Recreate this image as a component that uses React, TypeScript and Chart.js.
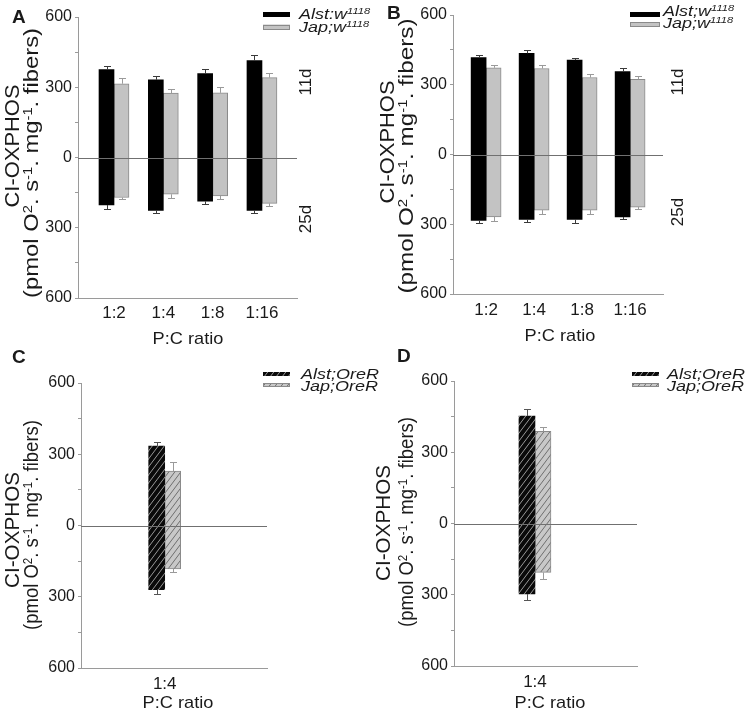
import React, { useEffect, useRef } from 'react';
import { Chart, registerables } from 'chart.js';

Chart.register(...registerables);

// ---------------- data ----------------
const ratiosTop = ['1:2', '1:4', '1:8', '1:16'];
const ratiosBottom = ['1:4'];
const yAxisTicks = [-600, -450, -300, -150, 0, 150, 300, 450, 600];
const yMajorStep = 300;

// Panel A (w1118 background) – 11d values above zero, 25d values below zero
const aAlst11d = [375, 332, 358, 414];
const aAlst11dErr = [17, 16, 19, 23];
const aJap11d = [315, 275, 276, 341];
const aJap11dErr = [23, 18, 25, 21];
const aAlst25d = [203, 226, 187, 226];
const aAlst25dErr = [16, 10, 10, 11];
const aJap25d = [171, 157, 164, 196];
const aJap25dErr = [5, 14, 13, 13];

// Panel B
const bAlst11d = [417, 435, 406, 357];
const bAlst11dErr = [11, 13, 10, 16];
const bJap11d = [373, 370, 331, 323];
const bJap11dErr = [12, 13, 15, 13];
const bAlst25d = [284, 279, 279, 269];
const bAlst25dErr = [10, 13, 15, 8];
const bJap25d = [268, 239, 239, 226];
const bJap25dErr = [17, 15, 15, 9];

// Panel C (OreR)
const cAlst11d = [334];
const cAlst11dErr = [18];
const cJap11d = [229];
const cJap11dErr = [39];
const cAlst25d = [270];
const cAlst25dErr = [18];
const cJap25d = [183];
const cJap25dErr = [14];

// Panel D (OreR)
const dAlst11d = [452];
const dAlst11dErr = [32];
const dJap11d = [388];
const dJap11dErr = [19];
const dAlst25d = [297];
const dAlst25dErr = [26];
const dJap25d = [206];
const dJap25dErr = [27];

// ---------------- styling ----------------
const FONT = "'Liberation Sans', Arial, Helvetica, sans-serif";
const TEXT = '#1a1a1a';
const AXIS = '#9a9a9a';
const ZERO = '#707070';
const YW = 60;
const XH = 30;

type Seg = { t: string; sup?: boolean };

interface Series {
  name: string;
  legend: Seg[];
  pos: number[];
  posErr: number[];
  neg: number[];
  negErr: number[];
  fill: string;
  errColor: string;
}

interface PanelCfg {
  key: string;
  letter: string;
  letterPos: [number, number];
  x: number;
  y: number;
  w: number;
  h: number;
  area: { l: number; t: number; r: number; b: number };
  xMin: number;
  xMax: number;
  bar: number;
  tickPad: number;
  cats: string[];
  series: Series[];
  title1: { bx: number; cy: number; len: number };
  title2: { bx: number; cy: number; len: number };
  days?: { x: number; y11: number; y25: number };
  legend: { sx: number; sw: number; rows: number[]; tx: number; base: number[]; sh: number };
  xTitle: { cx: number; base: number };
}

const supW: Seg[] = [{ t: '1118', sup: true }];

const panels: PanelCfg[] = [
  {
    key: 'A', letter: 'A', letterPos: [12, 23],
    x: 0, y: 0, w: 375, h: 350,
    area: { l: 78, t: 17, r: 297, b: 298 },
    xMin: 0.27, xMax: 4.71, bar: 15, tickPad: 5, cats: ratiosTop,
    series: [
      { name: 'Alst:w1118', legend: [{ t: 'Alst:w' }, ...supW], pos: aAlst11d, posErr: aAlst11dErr, neg: aAlst25d, negErr: aAlst25dErr, fill: 'black', errColor: '#3a3a3a' },
      { name: 'Jap;w1118', legend: [{ t: 'Jap;w' }, ...supW], pos: aJap11d, posErr: aJap11dErr, neg: aJap25d, negErr: aJap25dErr, fill: 'gray', errColor: '#9a9a9a' },
    ],
    title1: { bx: 19, cy: 146, len: 123 },
    title2: { bx: 38, cy: 163, len: 270 },
    days: { x: 305, y11: 82, y25: 219 },
    legend: { sx: 263, sw: 27, rows: [14.5, 27], tx: 299, base: [19, 31.5], sh: 5 },
    xTitle: { cx: 188, base: 344 },
  },
  {
    key: 'B', letter: 'B', letterPos: [12, 19],
    x: 375, y: 0, w: 375, h: 350,
    area: { l: 78, t: 15, r: 288, b: 294 },
    xMin: 0.31, xMax: 4.685, bar: 15, tickPad: 6, cats: ratiosTop,
    series: [
      { name: 'Alst;w1118', legend: [{ t: 'Alst;w' }, ...supW], pos: bAlst11d, posErr: bAlst11dErr, neg: bAlst25d, negErr: bAlst25dErr, fill: 'black', errColor: '#3a3a3a' },
      { name: 'Jap;w1118', legend: [{ t: 'Jap;w' }, ...supW], pos: bJap11d, posErr: bJap11dErr, neg: bJap25d, negErr: bJap25dErr, fill: 'gray', errColor: '#9a9a9a' },
    ],
    title1: { bx: 19, cy: 142, len: 123 },
    title2: { bx: 38, cy: 156, len: 275 },
    days: { x: 302, y11: 82, y25: 212 },
    legend: { sx: 255, sw: 30, rows: [14.5, 24.5], tx: 288, base: [15.5, 28], sh: 5 },
    xTitle: { cx: 185, base: 341 },
  },
  {
    key: 'C', letter: 'C', letterPos: [12, 18],
    x: 0, y: 345, w: 395, h: 368,
    area: { l: 81, t: 38, r: 267, b: 323 },
    xMin: 0.1, xMax: 2.1, bar: 16, tickPad: 6, cats: ratiosBottom,
    series: [
      { name: 'Alst;OreR', legend: [{ t: 'Alst;OreR' }], pos: cAlst11d, posErr: cAlst11dErr, neg: cAlst25d, negErr: cAlst25dErr, fill: 'hatchBlack', errColor: '#555555' },
      { name: 'Jap;OreR', legend: [{ t: 'Jap;OreR' }], pos: cJap11d, posErr: cJap11dErr, neg: cJap25d, negErr: cJap25dErr, fill: 'hatchGray', errColor: '#9a9a9a' },
    ],
    title1: { bx: 19, cy: 185, len: 116 },
    title2: { bx: 38, cy: 180, len: 210 },
    legend: { sx: 263, sw: 27, rows: [29, 40], tx: 301, base: [33.5, 45.5], sh: 4 },
    xTitle: { cx: 178, base: 363 },
  },
  {
    key: 'D', letter: 'D', letterPos: [22, 17],
    x: 375, y: 345, w: 375, h: 368,
    area: { l: 79, t: 36, r: 262, b: 321 },
    xMin: 0.115, xMax: 2.115, bar: 16, tickPad: 6, cats: ratiosBottom,
    series: [
      { name: 'Alst;OreR', legend: [{ t: 'Alst;OreR' }], pos: dAlst11d, posErr: dAlst11dErr, neg: dAlst25d, negErr: dAlst25dErr, fill: 'hatchBlack', errColor: '#555555' },
      { name: 'Jap;OreR', legend: [{ t: 'Jap;OreR' }], pos: dJap11d, posErr: dJap11dErr, neg: dJap25d, negErr: dJap25dErr, fill: 'hatchGray', errColor: '#9a9a9a' },
    ],
    title1: { bx: 15, cy: 178, len: 116 },
    title2: { bx: 38, cy: 177, len: 210 },
    legend: { sx: 257, sw: 27, rows: [29, 40], tx: 292, base: [33.5, 45.5], sh: 4 },
    xTitle: { cx: 175, base: 363 },
  },
];

const titleLine1: Seg[] = [{ t: 'CI-OXPHOS' }];
const titleLine2: Seg[] = [
  { t: '(pmol O' }, { t: '2', sup: true }, { t: '. s' }, { t: '-1', sup: true },
  { t: '. mg' }, { t: '-1', sup: true }, { t: '. fibers)' },
];

// ---------------- helpers ----------------
const fontStr = (size: number, style = '') => `${style} ${size}px ${FONT}`.trim();

function richWidth(ctx: CanvasRenderingContext2D, segs: Seg[], size: number, style: string) {
  let w = 0;
  for (const s of segs) {
    ctx.font = fontStr(s.sup ? size * 0.62 : size, style);
    w += ctx.measureText(s.t).width;
  }
  return w;
}

function drawRich(
  ctx: CanvasRenderingContext2D,
  segs: Seg[],
  x: number,
  y: number,
  size: number,
  style: string,
  align: 'left' | 'center',
  stretch = 1,
) {
  const w = richWidth(ctx, segs, size, style);
  ctx.save();
  ctx.translate(x, y);
  ctx.scale(stretch, 1);
  let cx = align === 'center' ? -w / 2 : 0;
  ctx.textAlign = 'left';
  ctx.textBaseline = 'alphabetic';
  for (const s of segs) {
    const sz = s.sup ? size * 0.62 : size;
    ctx.font = fontStr(sz, style);
    ctx.fillText(s.t, cx, s.sup ? -size * 0.32 : 0);
    cx += ctx.measureText(s.t).width;
  }
  ctx.restore();
}

function drawRotated(ctx: CanvasRenderingContext2D, segs: Seg[], bx: number, cy: number, size: number, len: number | null, style = '') {
  ctx.save();
  ctx.translate(bx, cy);
  ctx.rotate(-Math.PI / 2);
  const w = richWidth(ctx, segs, size, style);
  drawRich(ctx, segs, 0, 0, size, style, 'center', len ? len / w : 1);
  ctx.restore();
}

function makeHatch(bg: string, line: string): CanvasPattern | string {
  const c = document.createElement('canvas');
  const w = 6;
  const h = 8;
  c.width = w;
  c.height = h;
  const g = c.getContext('2d');
  if (!g) return bg;
  g.fillStyle = bg;
  g.fillRect(0, 0, w, h);
  g.strokeStyle = line;
  g.lineWidth = 1;
  g.beginPath();
  g.moveTo(-w, 2 * h);
  g.lineTo(2 * w, -h);
  g.moveTo(0, 2 * h);
  g.lineTo(3 * w, -h);
  g.moveTo(-2 * w, 2 * h);
  g.lineTo(w, -h);
  g.stroke();
  const p = g.createPattern(c, 'repeat');
  return p || bg;
}

function fillStyles() {
  return {
    black: { bg: '#000000' as any, border: '#000000', bw: 0 },
    gray: { bg: '#c3c3c3' as any, border: '#8a8a8a', bw: 1 },
    hatchBlack: { bg: makeHatch('#0a0a0a', '#9a9a9a') as any, border: '#111111', bw: 0 },
    hatchGray: { bg: makeHatch('#c8c8c8', '#6e6e6e') as any, border: '#8a8a8a', bw: 1 },
  } as Record<string, { bg: any; border: string; bw: number }>;
}

function buildConfig(p: PanelCfg): any {
  const fs = fillStyles();
  const cats = p.cats;

  const deco = {
    id: 'deco' + p.key,
    afterDatasetsDraw(chart: any) {
      const ctx: CanvasRenderingContext2D = chart.ctx;
      const ys = chart.scales.y;
      const ca = chart.chartArea;
      ctx.save();
      const y0 = Math.round(ys.getPixelForValue(0)) + 0.5;
      ctx.strokeStyle = ZERO;
      ctx.lineWidth = 1;
      ctx.beginPath();
      ctx.moveTo(ca.left, y0);
      ctx.lineTo(ca.right, y0);
      ctx.stroke();
      p.series.forEach((s, d) => {
        const meta = chart.getDatasetMeta(d);
        ctx.strokeStyle = s.errColor;
        ctx.lineWidth = 1;
        meta.data.forEach((el: any, i: number) => {
          const x = Math.round(el.x) + 0.5;
          const cap = 3.5;
          const yt = ys.getPixelForValue(s.pos[i]);
          const yte = Math.round(ys.getPixelForValue(s.pos[i] + s.posErr[i])) + 0.5;
          const yb = ys.getPixelForValue(-s.neg[i]);
          const ybe = Math.round(ys.getPixelForValue(-(s.neg[i] + s.negErr[i]))) + 0.5;
          ctx.beginPath();
          ctx.moveTo(x, yt);
          ctx.lineTo(x, yte);
          ctx.moveTo(x - cap, yte);
          ctx.lineTo(x + cap, yte);
          ctx.moveTo(x, yb);
          ctx.lineTo(x, ybe);
          ctx.moveTo(x - cap, ybe);
          ctx.lineTo(x + cap, ybe);
          ctx.stroke();
        });
      });
      ctx.restore();
    },
    afterDraw(chart: any) {
      const ctx: CanvasRenderingContext2D = chart.ctx;
      ctx.save();
      ctx.fillStyle = TEXT;
      ctx.font = fontStr(19, 'bold');
      ctx.textAlign = 'left';
      ctx.textBaseline = 'alphabetic';
      ctx.fillText(p.letter, p.letterPos[0], p.letterPos[1]);
      drawRotated(ctx, titleLine1, p.title1.bx, p.title1.cy, 20, p.title1.len);
      drawRotated(ctx, titleLine2, p.title2.bx, p.title2.cy, 20, p.title2.len);
      if (p.days) {
        ctx.fillStyle = TEXT;
        drawRotated(ctx, [{ t: '11d' }], p.days.x + 6, p.days.y11, 17, null);
        drawRotated(ctx, [{ t: '25d' }], p.days.x + 6, p.days.y25, 17, null);
      }
      p.series.forEach((s, i) => {
        const st = fs[s.fill];
        const yc = p.legend.rows[i];
        const sh = p.legend.sh;
        ctx.fillStyle = st.bg;
        ctx.fillRect(p.legend.sx, yc - sh / 2, p.legend.sw, sh);
        if (st.bw) {
          ctx.strokeStyle = st.border;
          ctx.lineWidth = 1;
          ctx.strokeRect(p.legend.sx + 0.5, Math.round(yc - sh / 2) + 0.5, p.legend.sw - 1, sh - 1);
        }
        ctx.fillStyle = TEXT;
        drawRich(ctx, s.legend, p.legend.tx, p.legend.base[i], 15, 'italic', 'left', 1.2);
      });
      ctx.fillStyle = TEXT;
      drawRich(ctx, [{ t: 'P:C ratio' }], p.xTitle.cx, p.xTitle.base, 17, '', 'center', 1.07);
      ctx.restore();
    },
  };

  return {
    type: 'bar',
    data: {
      datasets: p.series.map((s) => ({
        label: s.name,
        data: cats.map((_, i) => ({ x: i + 1, y: [-s.neg[i], s.pos[i]] })),
        backgroundColor: fs[s.fill].bg,
        borderColor: fs[s.fill].border,
        borderWidth: fs[s.fill].bw,
        borderSkipped: false,
        barThickness: p.bar,
      })),
    },
    options: {
      responsive: false,
      maintainAspectRatio: false,
      animation: false,
      events: [],
      layout: {
        padding: {
          left: p.area.l - YW,
          top: p.area.t,
          right: p.w - p.area.r,
          bottom: p.h - p.area.b - XH,
        },
      },
      plugins: {
        legend: { display: false },
        tooltip: { enabled: false },
        title: { display: false },
      },
      scales: {
        x: {
          type: 'linear',
          offset: false,
          min: p.xMin,
          max: p.xMax,
          afterBuildTicks: (sc: any) => {
            sc.ticks = cats.map((_, i) => ({ value: i + 1 }));
          },
          afterFit: (sc: any) => {
            sc.height = XH;
          },
          ticks: {
            callback: (v: number) => cats[Math.round(v) - 1] ?? '',
            font: { family: FONT, size: 17 },
            color: TEXT,
            padding: p.tickPad,
            maxRotation: 0,
            autoSkip: false,
          },
          grid: { display: false, drawTicks: false, offset: false },
          border: { display: true, color: AXIS, width: 1 },
        },
        y: {
          min: -600,
          max: 600,
          afterBuildTicks: (sc: any) => {
            sc.ticks = yAxisTicks.map((v) => ({ value: v }));
          },
          afterFit: (sc: any) => {
            sc.width = YW;
          },
          ticks: {
            callback: (v: number) => (v % yMajorStep === 0 ? String(Math.abs(v)) : ''),
            font: { family: FONT, size: 16 },
            color: TEXT,
            padding: 3,
            autoSkip: false,
          },
          grid: { display: true, drawOnChartArea: false, drawTicks: true, tickLength: 3, color: AXIS },
          border: { display: true, color: AXIS, width: 1 },
        },
      },
    },
    plugins: [deco],
  };
}

function Panel({ cfg }: { cfg: PanelCfg }) {
  const ref = useRef<HTMLCanvasElement>(null);
  useEffect(() => {
    if (!ref.current) return;
    const chart = new Chart(ref.current, buildConfig(cfg));
    return () => chart.destroy();
  }, [cfg]);
  return (
    <canvas
      ref={ref}
      width={cfg.w}
      height={cfg.h}
      style={{ position: 'absolute', left: cfg.x, top: cfg.y, width: cfg.w, height: cfg.h, display: 'block' }}
    />
  );
}

export default function App() {
  return (
    <div style={{ position: 'absolute', left: 0, top: 0, width: 750, height: 713, background: '#ffffff', overflow: 'hidden' }}>
      {panels.map((p) => (
        <Panel key={p.key} cfg={p} />
      ))}
    </div>
  );
}
